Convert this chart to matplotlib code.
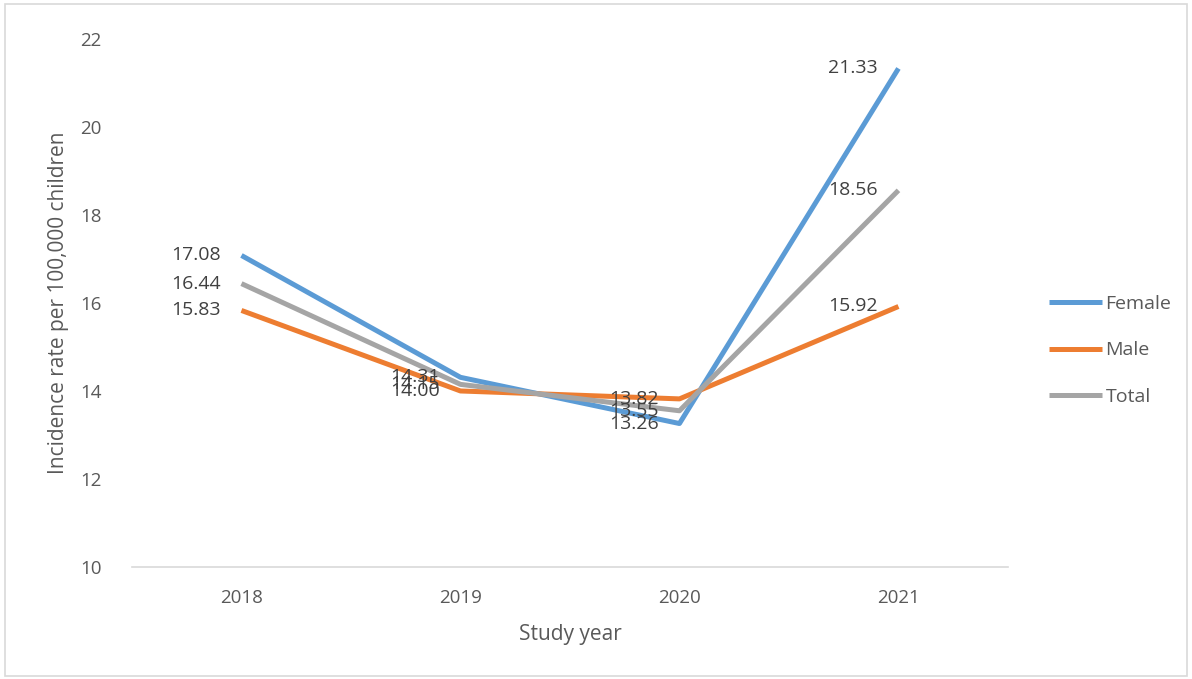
import matplotlib
matplotlib.use("Agg")
import matplotlib.pyplot as plt
from matplotlib.patches import Rectangle

years = ["2018", "2019", "2020", "2021"]
female = [17.08, 14.31, 13.26, 21.33]
male = [15.83, 14.00, 13.82, 15.92]
total = [16.44, 14.15, 13.55, 18.56]

series = [("Female", female, "#5B9BD5"),
          ("Male", male, "#ED7D31"),
          ("Total", total, "#A5A5A5")]

plt.rcParams['font.family'] = ['Open Sans', 'DejaVu Sans']

fig = plt.figure(figsize=(11.92, 6.79), dpi=100)
ax = fig.add_axes([0.1107, 0.165, 0.7349, 0.7776])

x = list(range(len(years)))
for name, vals, col in series:
    ax.plot(x, vals, color=col, lw=3.6, label=name, solid_capstyle='butt')
    for xi, v in zip(x, vals):
        ax.annotate(f"{v:.2f}", (xi, v), xytext=(-15, 0), textcoords='offset points',
                    ha='right', va='center', fontsize=14, color='#404040')

ax.set_xlim(-0.5, 3.5)
ax.set_ylim(10, 22)
ax.set_yticks(range(10, 23, 2))
ax.set_xticks(x)
ax.set_xticklabels(years)
ax.tick_params(axis='both', length=0, labelsize=13.5, colors='#595959', pad=16)
ax.tick_params(axis='y', pad=22)
for s in ['top', 'right', 'left']:
    ax.spines[s].set_visible(False)
ax.spines['bottom'].set_color('#D9D9D9')
ax.spines['bottom'].set_linewidth(1.2)

ax.set_xlabel("Study year", fontsize=15, color='#595959', labelpad=12)
ax.set_ylabel("Incidence rate per 100,000 children", fontsize=15, color='#595959', labelpad=8)

ax.legend(loc='center left', bbox_to_anchor=(1.027, 0.41), frameon=False, fontsize=14,
          labelcolor='#595959', handlelength=2.7, handletextpad=0.2, labelspacing=1.45)

fig.patches.append(Rectangle((0.004, 0.004), 0.992, 0.99, transform=fig.transFigure,
                             fill=False, edgecolor='#D9D9D9', lw=1.2))

fig.savefig("out.png", dpi=100)
